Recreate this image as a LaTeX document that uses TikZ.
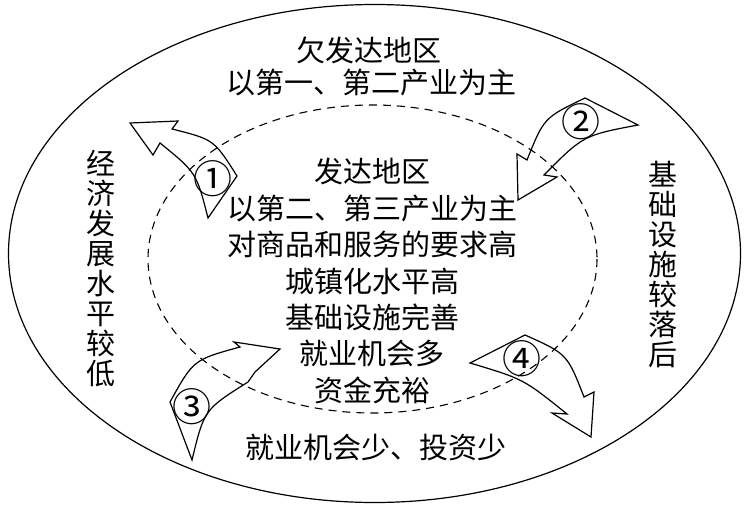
\documentclass[tikz,border=0pt]{standalone}
\usepackage{fontspec}
\newfontfamily\cjk{Noto Sans CJK SC}
\begin{document}
\begin{tikzpicture}[x=1pt,y=-1pt,
  shapeline/.style={draw, line width=1.2pt, line join=miter},
  txt/.style={font=\cjk\fontsize{29}{36.4}\selectfont, inner sep=0pt, align=center},
  vtxt/.style={font=\cjk\fontsize{29}{30}\selectfont, inner sep=0pt, align=center},
  num/.style={font=\cjk\fontsize{39}{39}\selectfont, inner sep=0pt}]
\useasboundingbox (0,0) rectangle (747,508);
% outer and inner ellipses
\draw[line width=1.2pt] (374.5,253.5) ellipse [x radius=366, y radius=249];
\draw[line width=1.1pt, dash pattern=on 8pt off 6pt] (372.5,259) ellipse [x radius=224.5, y radius=154];
% texts
\node[txt] (top1) at (369,50) {欠发达地区};
\node[txt] (top2) at (371,83) {以第一、第二产业为主};
\node[txt] (core) at (372,281) {发达地区\\以第二、第三产业为主\\对商品和服务的要求高\\城镇化水平高\\基础设施完善\\就业机会多\\资金充裕};
\node[txt] (bottom) at (376,447) {就业机会少、投资少};
\node[vtxt] (left) at (101,269) {经\\济\\发\\展\\水\\平\\较\\低};
\node[vtxt] (right) at (663,265) {基\\础\\设\\施\\较\\落\\后};
% arrow 1
\draw[shapeline] (208,218) -- (237,176) .. controls (213.9,139.5) .. (172,129) -- (178,121) -- (130,123) -- (153,155) -- (160,143) .. controls (196.4,172.6) .. (208,218) -- cycle;
% arrow 2
\draw[shapeline] (638,125) -- (585,98) .. controls (544,117.7) .. (527,160) -- (517,154) -- (518,200) -- (557,177) -- (544,175) .. controls (583.3,135.4) .. (638,125) -- cycle;
% arrow 3
\draw[shapeline] (192,460) -- (170,402) .. controls (193.4,359.8) .. (240,347) -- (234,342) -- (280,349) -- (255,372) -- (248,382) .. controls (204.2,409.6) .. (192,460) -- cycle;
% arrow 4
\draw[shapeline] (470,363) -- (525,335) .. controls (567.2,353.9) .. (584,397) -- (594,392) -- (591,437) -- (552,413) -- (567,414) .. controls (523.5,379) .. (470,363) -- cycle;
% numbers
\node[num] (n1) at (213,179) {①};
\node[num] (n2) at (581,122) {②};
\node[num] (n3) at (192,407) {③};
\node[num] (n4) at (522,359) {④};
\end{tikzpicture}
\end{document}
